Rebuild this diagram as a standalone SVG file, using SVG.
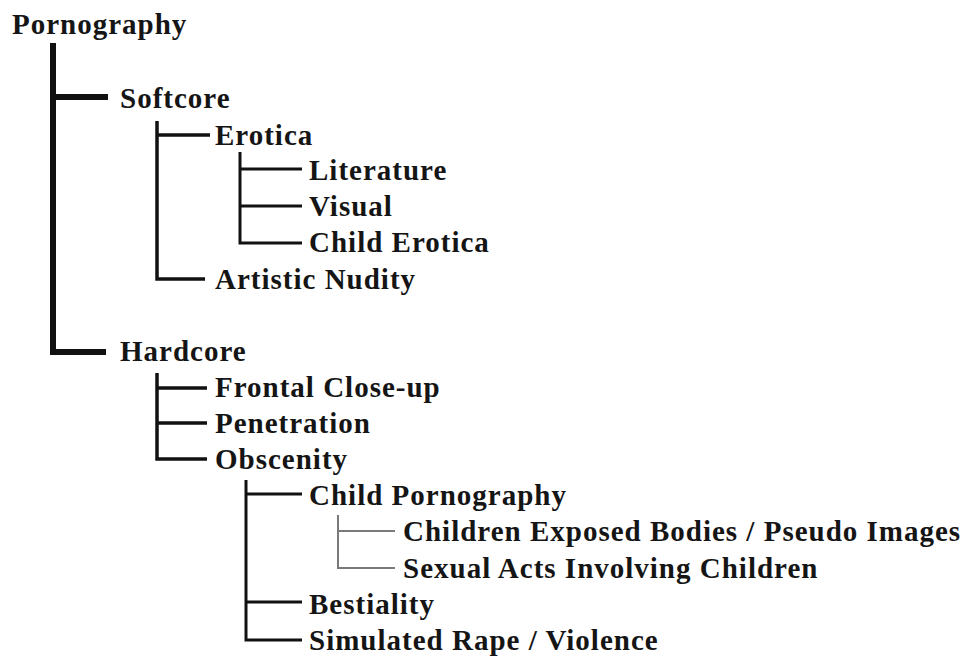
<svg xmlns="http://www.w3.org/2000/svg" width="967" height="657" viewBox="0 0 967 657">
<style>
text{font-family:"Liberation Serif","Times New Roman",serif;font-weight:bold;font-size:29px;letter-spacing:1px;fill:#151515}
.c{fill:none;stroke:#111;stroke-linecap:butt;stroke-linejoin:miter}
.l1{stroke-width:6}
.l2{stroke-width:3.5}
.l3{stroke-width:3}
.l4{stroke:#7a7a7a;stroke-width:2}
</style>
<rect width="967" height="657" fill="#fff"/>
<g id="connectors">
<path class="c l1" d="M53 43V352H106M53 97H108"/>
<path class="c l2" d="M157 121V279H205M157 135H210"/>
<path class="c l3" d="M240 152V243H302M240 169H302M240 206H302"/>
<path class="c l2" d="M157 373V459H207M157 388H207M157 423H207"/>
<path class="c l3" d="M246 480V640H302M246 494H302M246 602H302"/>
<path class="c l4" d="M338 515V568H395M338 531H395"/>
</g>
<g id="n-pornography"><text x="12" y="34">Pornography</text></g>
<g id="n-softcore"><text x="120" y="108">Softcore</text></g>
<g id="n-erotica"><text x="215" y="145">Erotica</text></g>
<g id="n-literature"><text x="309" y="180">Literature</text></g>
<g id="n-visual"><text x="309" y="216">Visual</text></g>
<g id="n-child-erotica"><text x="309" y="252">Child Erotica</text></g>
<g id="n-artistic-nudity"><text x="215" y="289">Artistic Nudity</text></g>
<g id="n-hardcore"><text x="120" y="361">Hardcore</text></g>
<g id="n-frontal"><text x="215" y="397">Frontal Close-up</text></g>
<g id="n-penetration"><text x="215" y="433">Penetration</text></g>
<g id="n-obscenity"><text x="215" y="469">Obscenity</text></g>
<g id="n-child-porn"><text x="309" y="505">Child Pornography</text></g>
<g id="n-exposed"><text x="403" y="541">Children Exposed Bodies / Pseudo Images</text></g>
<g id="n-sexual-acts"><text x="403" y="578">Sexual Acts Involving Children</text></g>
<g id="n-bestiality"><text x="309" y="614">Bestiality</text></g>
<g id="n-simulated"><text x="309" y="650">Simulated Rape / Violence</text></g>
</svg>
